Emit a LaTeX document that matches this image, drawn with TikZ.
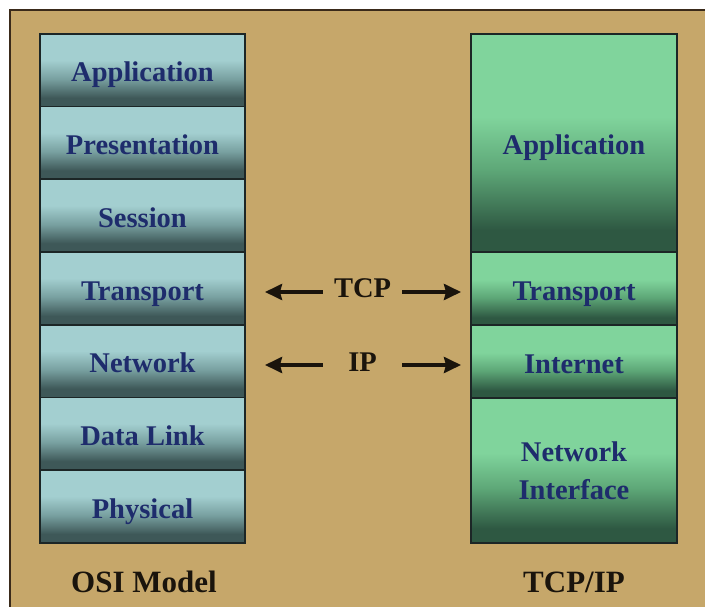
\documentclass[tikz,border=0pt]{standalone}
\usepackage{fontspec}
\setmainfont{Liberation Serif}
\usetikzlibrary{arrows.meta}
\definecolor{bg}{HTML}{C6A76A}
\definecolor{frame}{HTML}{3A2A1A}
\definecolor{cellline}{HTML}{1C2626}
\definecolor{osilight}{HTML}{A3CFD0}
\definecolor{osimid}{HTML}{78A0A0}
\definecolor{osidark}{HTML}{3E5858}
\definecolor{tcplight}{HTML}{80D49C}
\definecolor{tcpmid}{HTML}{5EA878}
\definecolor{tcpdark}{HTML}{2E5842}
\definecolor{navy}{HTML}{1E2C6C}
\definecolor{ink}{HTML}{1A140C}
\pgfdeclareverticalshading{osishade}{100bp}{color(0bp)=(osidark); color(25bp)=(osidark); color(31bp)=(osidark); color(44bp)=(osimid); color(57bp)=(osilight); color(75bp)=(osilight); color(100bp)=(osilight)}
\pgfdeclareverticalshading{tcpshade}{100bp}{color(0bp)=(tcpdark); color(25bp)=(tcpdark); color(30bp)=(tcpdark); color(44bp)=(tcpmid); color(56bp)=(tcplight); color(75bp)=(tcplight); color(100bp)=(tcplight)}
\tikzset{
  cellbase/.style={draw=cellline, line width=1.8pt, inner sep=0pt, anchor=north,
    text=navy, font=\bfseries\fontsize{28.5}{38}\selectfont, align=center,
    text height=24pt, text depth=0.5pt},
  osibox/.style={cellbase, shading=osishade, minimum width=205pt, minimum height=72.7pt},
  tcpbox/.style={cellbase, shading=tcpshade, minimum width=206pt},
  proto/.style={inner sep=0pt, minimum width=79pt, text=ink, font=\bfseries\fontsize{28.5}{34}\selectfont,
    text height=24pt, text depth=0.5pt},
  arr/.style={-{Stealth[length=17pt,width=16pt,inset=2pt]}, line width=3.5pt, draw=ink},
  caption/.style={inner sep=0pt, text=ink, font=\bfseries\fontsize{31}{36}\selectfont,
    text height=21pt, text depth=0pt}
}
\begin{document}
\begin{tikzpicture}[x=1pt,y=-1pt]
\useasboundingbox (0,0) rectangle (705,607);
\fill[white] (0,0) rectangle (705,607);
\fill[bg] (10,10) rectangle (705,607);
\draw[frame, line width=2.5pt] (10,607) -- (10,10) -- (705,10);

% OSI stack
\node[osibox] (app)  at (142.5,33.0)  {Application};
\node[osibox] (pres) at (142.5,105.7) {Presentation};
\node[osibox] (sess) at (142.5,178.4) {Session};
\node[osibox] (trans) at (142.5,251.1) {Transport};
\node[osibox] (net)  at (142.5,323.8) {Network};
\node[osibox] (dl)   at (142.5,396.5) {Data Link};
\node[osibox] (phys) at (142.5,469.2) {Physical};

% TCP/IP stack
\node[tcpbox, minimum height=218pt] (tapp) at (574,33)  {Application};
\node[tcpbox, minimum height=73pt]  (ttrans) at (574,251) {Transport};
\node[tcpbox, minimum height=73pt]  (tint) at (574,324) {Internet};
\node[tcpbox, minimum height=145pt, text height=, text depth=] (tni) at (574,397) {Network\\Interface};

% protocols
\node[proto] (tcp) at (362.5,286) {TCP};
\node[proto] (ip)  at (362.5,360) {IP};
\coordinate (tcpL) at (265,292);
\coordinate (tcpR) at (461,292);
\coordinate (ipL) at (265,365);
\coordinate (ipR) at (461,365);
\draw[arr] (tcp.west |- tcpL) -- (tcpL);
\draw[arr] (tcp.east |- tcpR) -- (tcpR);
\draw[arr] (ip.west |- ipL) -- (ipL);
\draw[arr] (ip.east |- ipR) -- (ipR);

% captions
\node[caption] (osilab) at (144,582) {OSI Model};
\node[caption] (tcplab) at (574,582) {TCP/IP};
\end{tikzpicture}
\end{document}
